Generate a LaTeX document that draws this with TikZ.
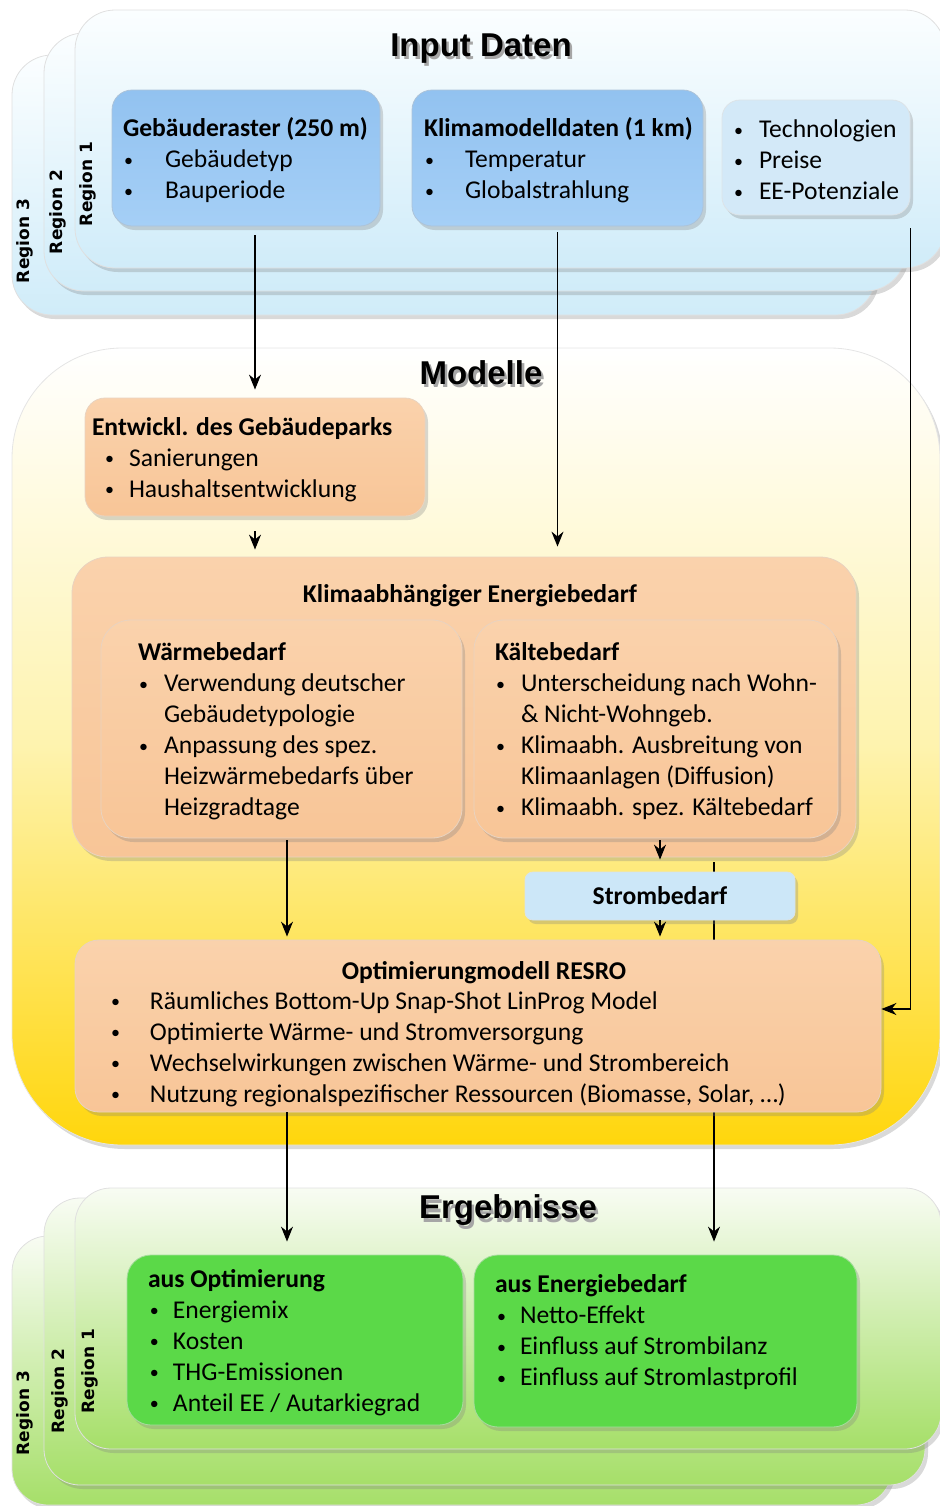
\documentclass[tikz,border=0pt]{standalone}
\usepackage{fontspec}
\setmainfont{Carlito}
\newfontfamily\titlefont{Liberation Sans}
\newfontfamily\regfont{DejaVu Sans}
\usetikzlibrary{arrows.meta, positioning, calc, shadows}

\definecolor{inputtop}{HTML}{FBFEFF}
\definecolor{inputbot}{HTML}{D0ECF9}
\definecolor{modmid}{HTML}{FEF3AE}
\definecolor{modbot}{HTML}{FFD60C}
\definecolor{outtop}{HTML}{F8FCF3}
\definecolor{outbot}{HTML}{A6DF69}
\definecolor{bluetop}{HTML}{92C2F0}
\definecolor{bluebot}{HTML}{A5CFF6}
\definecolor{techfill}{HTML}{D3E9F8}
\definecolor{peach}{HTML}{F8C597}
\definecolor{peachtop}{HTML}{FAD2AC}
\definecolor{greenbox}{HTML}{5BD948}
\definecolor{stromfill}{HTML}{CCE7F8}

\newcommand{\bodyfont}{\fontsize{12.8}{15.5}\selectfont}
\newcommand{\bul}{\raisebox{0.7pt}{\fontsize{9}{10}\selectfont\textbullet}}
\newcommand{\bitem}[3]{\hspace*{#1}\makebox[#2][l]{\bul}#3}
\newcommand{\bcont}[2]{\hspace*{#1}#2}
\newcommand{\shtext}[1]{\makebox[0pt][l]{\hspace{1.3pt}\raisebox{-1.6pt}{\textcolor{black!35}{#1}}}#1}

\begin{document}
\begin{tikzpicture}[
    x=0.5pt, y=-0.5pt,
    shade/.style={drop shadow={opacity=0.3, shadow xshift=1.5pt, shadow yshift=-2pt}},
    inpanel/.style={rounded corners=20pt, draw=black!12, top color=inputtop, bottom color=inputbot, shade, inner sep=0pt},
    modpanel/.style={rounded corners=55pt, draw=black!10, top color=white, bottom color=modbot, middle color=modmid, shade, inner sep=0pt},
    outpanel/.style={rounded corners=18pt, draw=black!12, top color=outtop, bottom color=outbot, shade, inner sep=0pt},
    bluebox/.style={rounded corners=10pt, draw=bluetop!80!black!60, top color=bluetop, bottom color=bluebot, shade, inner sep=0pt},
    techbox/.style={rounded corners=9pt, draw=techfill!80!black!40, fill=techfill, shade, inner sep=0pt},
    peachbox/.style={rounded corners=#1, draw=peach!85!black!50, top color=peachtop, bottom color=peach, shade, inner sep=0pt},
    greenbx/.style={rounded corners=12pt, draw=greenbox!85!black!50, fill=greenbox, shade, inner sep=0pt},
    strombox/.style={rounded corners=4pt, draw=stromfill!80!black!40, fill=stromfill, shade, font=\bodyfont\bfseries},
    txt/.style={font=\bodyfont, align=left, inner sep=0pt, anchor=west, yshift=-1.2pt},
    ttl/.style={font=\titlefont\bfseries\fontsize{16.5}{18}\selectfont},
    reg/.style={font=\regfont\bfseries\fontsize{8.5}{10}\selectfont, rotate=90},
    arrow/.style={-{Stealth[length=7.5pt, width=6pt]}, line width=0.7pt}
]
    \useasboundingbox (0,0) rectangle (939,1506);

    % Input Daten
    \node[inpanel, minimum width=432pt, minimum height=130pt] (in3) at (444,185) {};
    \node[inpanel, minimum width=431pt, minimum height=129pt] (in2) at (475,162) {};
    \node[inpanel, minimum width=435pt, minimum height=129pt] (in1) at (510,139) {};
    \node[reg] (inreg3) at (25,241) {Region 3};
    \node[reg] (inreg2) at (58,212) {Region 2};
    \node[reg] (inreg1) at (88,184) {Region 1};
    \node[ttl] (inttl) at (481,50) {\shtext{Input Daten}};

    % Modelle
    \node[modpanel, minimum width=464pt, minimum height=398.5pt] (mod) at (476,746.5) {};
    \node[ttl] (modttl) at (481,374) {\shtext{Modelle}};

    % Ergebnisse
    \node[outpanel, minimum width=440pt, minimum height=134.5pt] (out3) at (452,1370.5) {};
    \node[outpanel, minimum width=440.5pt, minimum height=143.5pt] (out2) at (484.5,1341.5) {};
    \node[outpanel, minimum width=433pt, minimum height=130.5pt] (out1) at (508,1318.5) {};
    \node[reg] (outreg3) at (25,1413) {Region 3};
    \node[reg] (outreg2) at (60,1391) {Region 2};
    \node[reg] (outreg1) at (90,1371) {Region 1};
    \node[ttl] (outttl) at (508,1212) {\shtext{Ergebnisse}};

    % Eingangsdaten
    \node[bluebox, minimum width=134pt, minimum height=68pt] (geb) at (246,158) {};
    \node[txt] (gebtxt) at ([xshift=5.5pt]geb.west) {\textbf{Gebäuderaster (250 m)}\\
        \bitem{0.5pt}{20.5pt}{Gebäudetyp}\\
        \bitem{0.5pt}{20.5pt}{Bauperiode}};
    \node[bluebox, minimum width=145.5pt, minimum height=68pt] (klimadat) at (557.5,158) {};
    \node[txt] (klimadattxt) at ([xshift=6pt]klimadat.west) {\textbf{Klimamodelldaten (1 km)}\\
        \bitem{0.5pt}{20pt}{Temperatur}\\
        \bitem{0.5pt}{20pt}{Globalstrahlung}};
    \node[techbox, minimum width=94pt, minimum height=57.5pt] (tech) at (816,157.5) {};
    \node[txt] (techtxt) at ([xshift=6pt]tech.west) {\bitem{0pt}{12.5pt}{Technologien}\\
        \bitem{0pt}{12.5pt}{Preise}\\
        \bitem{0pt}{12.5pt}{EE-Potenziale}};

    % Modelle
    \node[peachbox=10pt, minimum width=170pt, minimum height=59pt] (entw) at (255,457) {};
    \node[txt] (entwtxt) at ([xshift=3.5pt]entw.west) {\textbf{Entwickl. des Gebäudeparks}\\
        \bitem{6.5pt}{12pt}{Sanierungen}\\
        \bitem{6.5pt}{12pt}{Haushaltsentwicklung}};
    \node[peachbox=18pt, minimum width=392pt, minimum height=150pt] (klimaabh) at (464,707) {};
    \node[font=\bodyfont\bfseries] (klimattl) at ([xshift=3pt, yshift=-19.5pt]klimaabh.north) {Klimaabhängiger Energiebedarf};
    \node[peachbox=15pt, minimum width=180.5pt, minimum height=109pt] (waerme) at (281.5,729) {};
    \node[txt] (waermetxt) at ([xshift=18.5pt]waerme.west) {\textbf{Wärmebedarf}\\
        \bitem{0.5pt}{12.5pt}{Verwendung deutscher}\\
        \bcont{13pt}{Gebäudetypologie}\\
        \bitem{0.5pt}{12.5pt}{Anpassung des spez.}\\
        \bcont{13pt}{Heizwärmebedarfs über}\\
        \bcont{13pt}{Heizgradtage}};
    \node[peachbox=15pt, minimum width=182pt, minimum height=109pt] (kaelte) at (656,729) {};
    \node[txt] (kaeltetxt) at ([xshift=10.5pt]kaelte.west) {\textbf{Kältebedarf}\\
        \bitem{0.5pt}{12.5pt}{Unterscheidung nach Wohn-}\\
        \bcont{13pt}{\& Nicht-Wohngeb.}\\
        \bitem{0.5pt}{12.5pt}{Klimaabh. Ausbreitung von}\\
        \bcont{13pt}{Klimaanlagen (Diffusion)}\\
        \bitem{0.5pt}{12.5pt}{Klimaabh. spez. Kältebedarf}};

    % Ergebnisse
    \node[greenbx, minimum width=168pt, minimum height=85pt] (opt) at (295,1340) {};
    \node[txt] (opttxt) at ([xshift=10.5pt]opt.west) {\textbf{aus Optimierung}\\
        \bitem{1pt}{11.5pt}{Energiemix}\\
        \bitem{1pt}{11.5pt}{Kosten}\\
        \bitem{1pt}{11.5pt}{THG-Emissionen}\\
        \bitem{1pt}{11.5pt}{Anteil EE / Autarkiegrad}};
    \node[greenbx, minimum width=191.5pt, minimum height=86pt] (energ) at (665.5,1341) {};
    \node[txt] (energtxt) at ([xshift=10.5pt, yshift=5.5pt]energ.west) {\textbf{aus Energiebedarf}\\
        \bitem{1pt}{11.5pt}{Netto-Effekt}\\
        \bitem{1pt}{11.5pt}{Einfluss auf Strombilanz}\\
        \bitem{1pt}{11.5pt}{Einfluss auf Stromlastprofil}};

    % durchgehende Linie hinter Strombedarf und RESRO
    \draw[arrow, shorten <=2.5pt, shorten >=6.5pt] ([xshift=125pt]klimaabh.south) -- ([xshift=125pt]klimaabh.south |- energ.north);

    \node[strombox, minimum width=135pt, minimum height=24pt] (strom) at (660,896) {Strombedarf};
    \node[peachbox=12pt, minimum width=403pt, minimum height=86pt] (resro) at (478,1026) {};
    \node[font=\bodyfont\bfseries] (resrottl) at ([xshift=3pt, yshift=-16.5pt]resro.north) {Optimierungmodell RESRO};
    \node[txt] (resrotxt) at ([xshift=18pt, yshift=-10.25pt]resro.west) {\bitem{0pt}{19.5pt}{Räumliches Bottom-Up Snap-Shot LinProg Model}\\
        \bitem{0pt}{19.5pt}{Optimierte Wärme- und Stromversorgung}\\
        \bitem{0pt}{19.5pt}{Wechselwirkungen zwischen Wärme- und Strombereich}\\
        \bitem{0pt}{19.5pt}{Nutzung regionalspezifischer Ressourcen (Biomasse, Solar, \dots)}};

    \draw[arrow, shorten <=4.5pt, shorten >=4pt] (entw.north |- geb.south) -- (entw.north);
    \draw[arrow, shorten <=3pt, shorten >=5pt] (klimadat.south) -- (klimadat.south |- klimaabh.north);
    \draw[arrow] ([yshift=-6.5pt]tech.south east) |- ([yshift=8.5pt]resro.east);
    \draw[arrow, shorten <=7.5pt, shorten >=3.5pt] (entw.south) -- (entw.south |- klimaabh.north);
    \draw[arrow, shorten <=1pt, shorten >=1.5pt] ([xshift=2.75pt]waerme.south) -- ([xshift=2.75pt]waerme.south |- resro.north);
    \draw[arrow, shorten <=1pt, shorten >=6pt] ([xshift=2pt]kaelte.south) -- ([xshift=2pt]kaelte.south |- strom.north);
    \draw[arrow, shorten >=1.5pt] (strom.south) -- (strom.south |- resro.north);
    \draw[arrow, shorten >=6.5pt] ([xshift=-4pt]opt.north |- resro.south) -- ([xshift=-4pt]opt.north);
\end{tikzpicture}
\end{document}
